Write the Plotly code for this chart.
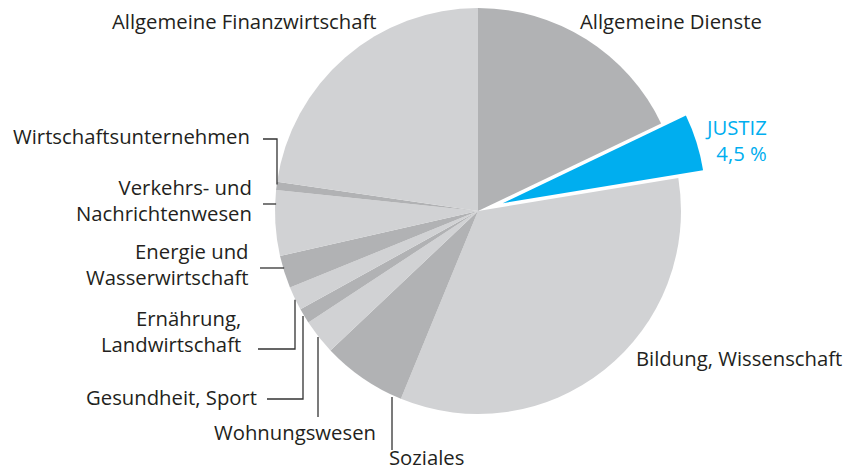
import math
import plotly.graph_objects as go

# ---------------- data ----------------
categories = [
    "Allgemeine Dienste",
    "Justiz",
    "Bildung, Wissenschaft",
    "Soziales",
    "Wohnungswesen",
    "Gesundheit, Sport",
    "Ernährung, Landwirtschaft",
    "Energie und Wasserwirtschaft",
    "Verkehrs- und Nachrichtenwesen",
    "Wirtschaftsunternehmen",
    "Allgemeine Finanzwirtschaft",
]
shares = [17.9, 4.5, 33.8, 6.75, 2.8, 1.2, 1.9, 2.6, 5.2, 0.65, 22.7]
highlight = "Justiz"
highlight_label = "JUSTIZ<br>4,5 %"

# ---------------- style ----------------
W, H = 850, 470
CX, CY, R = 478, 211, 203          # pie centre / radius in pixels
PULL_PX = 26                       # offset of highlighted slice
DARK, LIGHT, BLUE = "#b1b2b4", "#d1d2d4", "#00aeef"
TXT = "#231f20"
FONT = "Open Sans"
FS = 20.3
TRANSPARENT = "rgba(0,0,0,0)"

hi = categories.index(highlight)
base_colors = []
k = 0
for i in range(len(categories)):
    if i == hi:
        base_colors.append(BLUE)
    else:
        base_colors.append(DARK if k % 2 == 0 else LIGHT)
        k += 1


def fx(x):
    return min(max(x / W, 0), 1)


def fy(y):
    return min(max(1 - y / H, 0), 1)


def domain(cx, cy, r):
    return dict(x=[fx(cx - r), fx(cx + r)], y=[fy(cy + r), fy(cy - r)])


# geometry of highlighted slice (from data)
total = sum(shares)
a0 = sum(shares[:hi]) / total * 360
a1 = a0 + shares[hi] / total * 360
amid = math.radians((a0 + a1) / 2)
HX = CX + PULL_PX * math.sin(amid)
HY = max(CY - PULL_PX * math.cos(amid), R)

colors_main = [TRANSPARENT if i == hi else c for i, c in enumerate(base_colors)]
colors_hi = [c if i == hi else TRANSPARENT for i, c in enumerate(base_colors)]

common = dict(
    labels=categories,
    values=shares,
    sort=False,
    direction="clockwise",
    rotation=0,
    textinfo="none",
    hoverinfo="label+percent",
    showlegend=False,
)

fig = go.Figure()
fig.add_trace(go.Pie(**common, marker=dict(colors=colors_main, line=dict(width=0)),
                     domain=domain(CX, CY, R)))
fig.add_trace(go.Pie(**common, marker=dict(colors=colors_hi, line=dict(width=0)),
                     domain=domain(HX, HY, R)))

# ---------------- labels ----------------
labels = [
    # text, x, y, xanchor, colour
    ("Allgemeine Finanzwirtschaft", 379, 21, "right", TXT),
    ("Allgemeine Dienste", 578, 21, "left", TXT),
    (highlight_label, 769, 140, "right", BLUE),
    ("Bildung, Wissenschaft", 634, 358, "left", TXT),
    ("Wirtschaftsunternehmen", 252, 136, "right", TXT),
    ("Verkehrs- und<br>Nachrichtenwesen", 254, 200, "right", TXT),
    ("Energie und<br>Wasserwirtschaft", 251, 264, "right", TXT),
    ("Ernährung,<br>Landwirtschaft", 243, 331, "right", TXT),
    ("Gesundheit, Sport", 259, 397, "right", TXT),
    ("Wohnungswesen", 295, 432, "center", TXT),
    ("Soziales", 426, 457, "center", TXT),
]
for text, x, y, xa, col in labels:
    fig.add_annotation(
        text=text, x=fx(x), y=fy(y), xref="paper", yref="paper",
        xanchor=xa, yanchor="middle", align=xa,
        showarrow=False, font=dict(family=FONT, size=FS, color=col),
    )


# ---------------- leader lines ----------------
def edge_y(x, upper):
    d = math.sqrt(max(R * R - (x - CX) ** 2, 0))
    return CY - d if upper else CY + d


def edge_x(y):
    return CX - math.sqrt(max(R * R - (y - CY) ** 2, 0))


leaders = [
    [(263, 139), (277, 139), (277, edge_y(277, True) + 2)],
    [(263, 204), (edge_x(204) + 1, 204)],
    [(260, 268), (edge_x(268) + 1, 268)],
    [(258, 349), (295, 349), (295, edge_y(295, False) + 1)],
    [(267, 399), (303, 399), (303, edge_y(303, False) + 2)],
    [(318, 417), (318, edge_y(318, False) + 1)],
    [(392, 450), (392, edge_y(392, False) + 2)],
]
for pts in leaders:
    path = "M " + " L ".join(f"{fx(x):.5f},{fy(y):.5f}" for x, y in pts)
    fig.add_shape(type="path", path=path, xref="paper", yref="paper",
                  line=dict(color="#333333", width=1.3))

fig.update_layout(
    width=W, height=H,
    margin=dict(l=0, r=0, t=0, b=0),
    paper_bgcolor="white", plot_bgcolor="white",
)

# remove the browser's default page margin so the figure sits at (0, 0)
fig.write_html("out.html", config={"displayModeBar": False},
               post_script="document.body.style.margin='0';")
